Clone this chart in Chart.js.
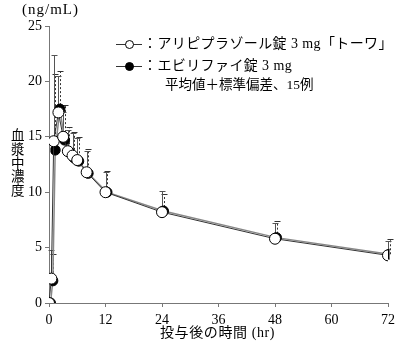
<!DOCTYPE html>
<html>
<head>
<meta charset="utf-8">
<script src="https://cdn.jsdelivr.net/npm/chart.js@4/dist/chart.umd.min.js"></script>
<style>
  html, body { margin: 0; padding: 0; background: #fff; }
  #wrap { position: relative; width: 400px; height: 344px; overflow: hidden; }
  canvas { position: absolute; left: 0; top: 0; }
  .t { position: absolute; color: #000; white-space: nowrap; font-family: "Liberation Serif", "Noto Sans CJK JP", serif; line-height: 1; }
  .leg { position: absolute; left: 116px; font-size: 14px; letter-spacing: 0.4px; white-space: nowrap; line-height: 1; font-family: "Liberation Serif", "Noto Sans CJK JP", serif; }
  .mk { display: inline-block; position: relative; width: 26px; height: 13px; vertical-align: middle; margin-right: 1px; }
  .mk::before { content: ""; position: absolute; left: 0; right: 0; top: 6px; border-top: 1px solid #333; }
  .mk span { position: absolute; left: 9px; top: 2px; width: 7px; height: 7px; border-radius: 50%; border: 1px solid #000; box-sizing: content-box; }
</style>
</head>
<body>
<div id="wrap">
  <canvas id="c" width="400" height="344"></canvas>
  <div class="t" style="left:22px; top:2px; font-size:15px; letter-spacing:1px;">(ng/mL)</div>
  <div class="t" style="left:11px; top:128px; font-size:13.5px; line-height:13.8px; white-space:normal; width:14px; font-family:'Noto Sans CJK JP', sans-serif;">血<br>漿<br>中<br>濃<br>度</div>
  <div class="t" style="left:160px; top:326px; font-size:14px; letter-spacing:0.6px;">投与後の時間 (hr)</div>
  <div class="leg" style="top:37px;"><span class="mk"><span style="background:#fff"></span></span>：アリピプラゾール錠 3 mg「トーワ」</div>
  <div class="leg" style="top:59px;"><span class="mk"><span style="background:#000"></span></span>：エビリファイ錠 3 mg</div>
  <div class="leg" style="top:78px; left:165px; font-size:13.5px; letter-spacing:0;">平均値＋標準偏差、15例</div>
</div>
<script>
// Sampling times (hr)
const times = [0, 0.5, 1, 2, 3, 4, 5, 6, 8, 12, 24, 48, 72];
// アリピプラゾール錠3mg「トーワ」 (open circles)
const testMean = [0, 2.2, 14.6, 17.2, 15.0, 13.7, 13.3, 12.9, 11.8, 10.0, 8.2, 5.8, 4.3];
const testSD   = [0, 2.6, 7.8, 3.3, 2.2, 1.9, 2.0, 2.0, 1.9, 1.8, 1.9, 1.4, 1.3];
// エビリファイ錠3mg (filled circles)
const refMean  = [0, 2.0, 13.8, 17.5, 14.7, 13.6, 13.1, 12.8, 11.7, 10.0, 8.3, 5.9, 4.4];
const refSD    = [0, 2.4, 6.9, 3.4, 3.2, 2.3, 2.3, 2.2, 2.2, 1.9, 1.5, 1.5, 1.35];
// Axis ticks
const xTicks = [0, 12, 24, 36, 48, 60, 72];
const yTicks = [0, 5, 10, 15, 20, 25];

const REF_SHIFT = 1.5; // small pixel offset of the reference markers

const errorBars = {
  id: 'errorBars',
  beforeDatasetsDraw(chart) {
    const ctx = chart.ctx, xs = chart.scales.x, ys = chart.scales.y;
    const sets = [
      { mean: refMean, sd: refSD, dash: [2, 2], color: '#333', shift: REF_SHIFT },
      { mean: testMean, sd: testSD, dash: [], color: '#555', shift: 0 }
    ];
    sets.forEach(s => {
      ctx.save();
      ctx.strokeStyle = s.color;
      ctx.lineWidth = 1;
      times.forEach((t, i) => {
        if (!s.sd[i]) return;
        const x = Math.round(xs.getPixelForValue(t) + s.shift) + 0.5;
        const y0 = ys.getPixelForValue(s.mean[i]);
        const y1 = Math.round(ys.getPixelForValue(s.mean[i] + s.sd[i])) + 0.5;
        ctx.setLineDash(s.dash);
        ctx.beginPath(); ctx.moveTo(x, y0); ctx.lineTo(x, y1); ctx.stroke();
        ctx.setLineDash([]);
        ctx.beginPath(); ctx.moveTo(x - 3, y1); ctx.lineTo(x + 3, y1); ctx.stroke();
      });
      ctx.restore();
    });
  },
  beforeDatasetDraw(chart, args) {
    if (args.index === 1) { chart.ctx.save(); chart.ctx.translate(REF_SHIFT, 0); }
  },
  afterDatasetDraw(chart, args) {
    if (args.index === 1) { chart.ctx.restore(); }
  }
};

const tickFont = { family: 'Liberation Serif', size: 14 };

new Chart(document.getElementById('c'), {
  type: 'line',
  data: {
    datasets: [
      {
        label: 'アリピプラゾール錠3mg「トーワ」',
        data: times.map((t, i) => ({ x: t, y: testMean[i] })),
        borderColor: '#333', borderWidth: 1,
        pointRadius: 5.5, pointBackgroundColor: '#fff', pointBorderColor: '#000', pointBorderWidth: 1,
        tension: 0
      },
      {
        label: 'エビリファイ錠3mg',
        data: times.map((t, i) => ({ x: t, y: refMean[i] })),
        borderColor: '#888', borderWidth: 1.5,
        pointRadius: 5, pointBackgroundColor: '#000', pointBorderColor: '#000', pointBorderWidth: 1,
        tension: 0
      }
    ]
  },
  options: {
    responsive: false,
    animation: false,
    layout: { padding: { top: 26, right: 9, left: 0, bottom: 0 } },
    plugins: { legend: { display: false }, tooltip: { enabled: false } },
    scales: {
      x: {
        type: 'linear', min: 0, max: 72,
        afterBuildTicks: s => { s.ticks = xTicks.map(v => ({ value: v })); },
        ticks: { font: tickFont, color: '#000', padding: 5, maxRotation: 0 },
        grid: { drawOnChartArea: false, drawTicks: true, tickLength: 4, color: '#777' },
        border: { color: '#777', width: 1 },
        afterFit: s => { s.height = 41; }
      },
      y: {
        min: 0, max: 25,
        afterBuildTicks: s => { s.ticks = yTicks.map(v => ({ value: v })); },
        ticks: { font: tickFont, color: '#000', padding: 3 },
        grid: { drawOnChartArea: false, drawTicks: true, tickLength: 4, color: '#777' },
        border: { color: '#777', width: 1 },
        afterFit: s => { s.width = 49; }
      }
    }
  },
  plugins: [errorBars]
});
</script>
</body>
</html>
